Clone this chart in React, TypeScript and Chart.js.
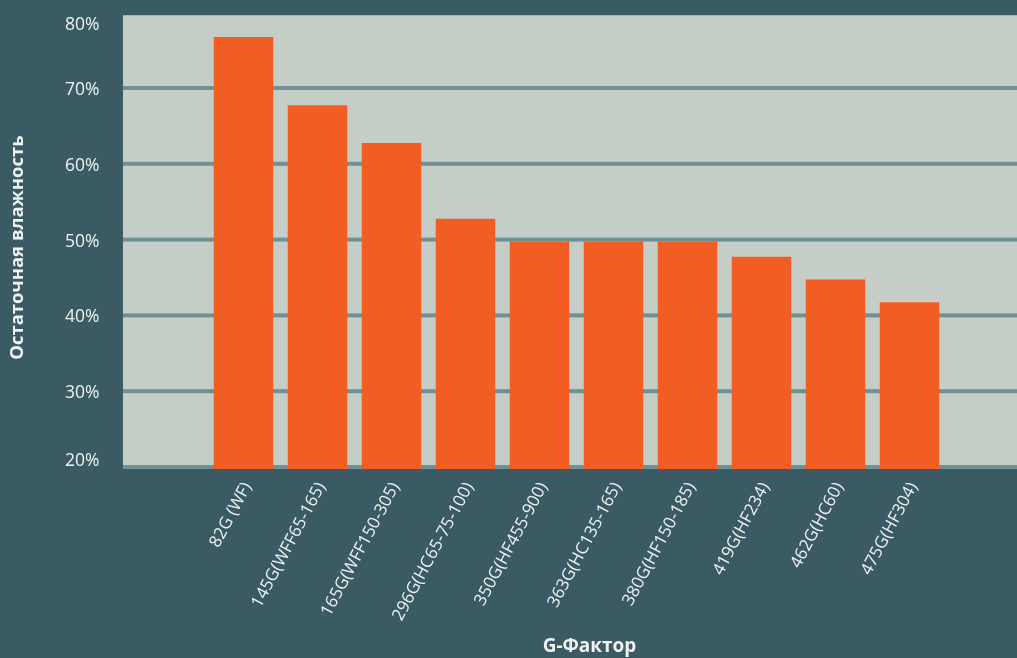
import React, { useEffect, useRef } from "react";
import { Chart, registerables } from "chart.js";

Chart.register(...registerables);

const CATEGORIES: string[] = [
  "",
  "82G (WF)",
  "145G(WFF65-165)",
  "165G(WFF150-305)",
  "296G(HC65-75-100)",
  "350G(HF455-900)",
  "363G(HC135-165)",
  "380G(HF150-185)",
  "419G(HF234)",
  "462G(HC60)",
  "475G(HF304)",
];
const RESIDUAL_MOISTURE: (number | null)[] = [null, 77, 68, 63, 53, 50, 50, 50, 48, 45, 42];
const Y_TICKS: number[] = [20, 30, 40, 50, 60, 70, 80];
const Y_TITLE = "Остаточная влажность";
const X_TITLE = "G-Фактор";

const PAGE_BG = "#3a5a64";
const PLOT_BG = "#c4cec6";
const GRID = "#6f9194";
const BAR = "#f25d24";
const TEXT = "#eef2f2";
const FONT = "'Open Sans', 'Noto Sans', sans-serif";

const decorPlugin = {
  id: "decor",
  beforeDraw(chart: any) {
    const { ctx, width } = chart;
    const y = chart.scales.y;
    const area = chart.chartArea;
    ctx.save();
    ctx.fillStyle = PAGE_BG;
    ctx.fillRect(0, 0, width, chart.height);
    const left = area.left - 9.5;
    const top = y.getPixelForValue(80) + 1;
    const bottom = y.getPixelForValue(20);
    ctx.fillStyle = PLOT_BG;
    ctx.fillRect(left, top, width - left, bottom - top);
    ctx.fillStyle = GRID;
    for (const v of Y_TICKS) {
      if (v >= 80) continue;
      const p = y.getPixelForValue(v);
      ctx.fillRect(left, p - 4, width - left, 4);
    }
    ctx.restore();
  },
  afterDraw(chart: any) {
    const { ctx, height } = chart;
    const y = chart.scales.y;
    const area = chart.chartArea;
    ctx.save();
    ctx.fillStyle = TEXT;
    ctx.font = `17.5px ${FONT}`;
    ctx.textAlign = "right";
    ctx.textBaseline = "middle";
    for (const v of Y_TICKS) {
      let p = y.getPixelForValue(v);
      p = Math.max(area.top + 11, Math.min(area.bottom - 8, p));
      ctx.fillText(`${v}%`, area.left - 33, p);
    }
    ctx.textAlign = "center";
    ctx.font = `bold 19px ${FONT}`;
    ctx.fillText(X_TITLE, 589.5, height - 11);
    ctx.font = `bold 18.5px ${FONT}`;
    ctx.translate(17.5, (area.top + area.bottom) / 2 + 6);
    ctx.rotate(-Math.PI / 2);
    ctx.fillText(Y_TITLE, 0, 0);
    ctx.restore();
  },
};

export default function App() {
  const ref = useRef<HTMLCanvasElement>(null);
  useEffect(() => {
    if (!ref.current) return;
    const chart = new Chart(ref.current, {
      type: "bar",
      data: {
        labels: CATEGORIES,
        datasets: [
          {
            data: RESIDUAL_MOISTURE,
            backgroundColor: BAR,
            borderWidth: 0,
            barPercentage: 0.804,
            categoryPercentage: 1,
          },
        ],
      },
      options: {
        animation: false,
        responsive: false,
        devicePixelRatio: 1,
        layout: { padding: { left: 132.5, right: 70.5, top: 14.2, bottom: 0 } },
        plugins: {
          legend: { display: false },
          tooltip: { enabled: false },
        },
        scales: {
          x: {
            grid: { display: false, drawTicks: false },
            border: { display: false },
            ticks: {
              color: TEXT,
              font: { family: FONT, size: 17 },
              minRotation: 62,
              maxRotation: 62,
              autoSkip: false,
              padding: 10,
              labelOffset: 4,
            },
            afterFit: (scale: any) => {
              scale.height = 189;
            },
          },
          y: {
            display: false,
            min: 20,
            max: 80,
          },
        },
      },
      plugins: [decorPlugin],
    });
    return () => chart.destroy();
  }, []);
  return (
    <div style={{ position: "absolute", left: 0, top: 0, width: 1017, height: 658, background: PAGE_BG }}>
      <canvas ref={ref} width={1017} height={658} style={{ display: "block" }} />
    </div>
  );
}
